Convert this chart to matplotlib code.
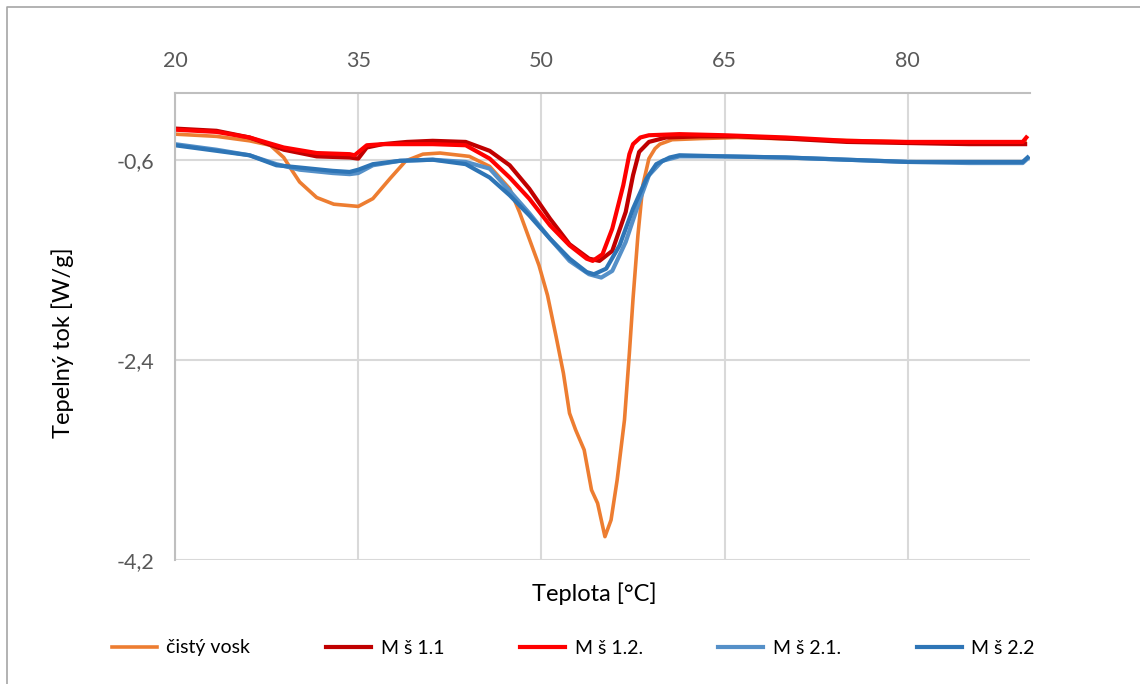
import matplotlib
matplotlib.use("Agg")
import matplotlib.pyplot as plt
from matplotlib.lines import Line2D

plt.rcParams['font.family'] = ['Lato', 'DejaVu Sans']

# data (teplota [°C], tepelny tok [W/g])
t_vosk = [20, 23.4, 26.1, 27.8, 28.9, 29.6, 30.2, 31.6, 33.0, 35.0, 36.2, 37.6, 38.9,
          40.3, 41.7, 44.1, 45.76, 47.4, 48.2, 49.0, 49.8, 50.5, 51.2, 51.8, 52.3, 52.8, 53.5,
          54.1, 54.6, 55.2, 55.7, 56.2, 56.8, 57.2, 57.5, 57.9, 58.3, 58.8, 59.3, 59.7, 60.7, 63.0,
          66.0, 72.5, 80.0, 89.6]
q_vosk = [-0.37, -0.39, -0.43, -0.47, -0.58, -0.70, -0.80, -0.94, -1.00, -1.02, -0.95, -0.77,
          -0.61, -0.55, -0.54, -0.57, -0.66, -0.86, -1.07, -1.31, -1.55, -1.82, -2.19,
          -2.52, -2.88, -3.03, -3.21, -3.57, -3.69, -3.99, -3.84, -3.48, -2.94, -2.34, -1.85,
          -1.28, -0.83, -0.59, -0.50, -0.46, -0.42, -0.41, -0.40, -0.42, -0.44, -0.44]

t_m11 = [20, 23.4, 26.1, 28.9, 31.6, 34.3, 35.0, 35.7, 37.0, 39.0, 41.1, 43.8, 45.76, 47.4,
         49.0, 50.7, 52.3, 53.9, 54.75, 55.8, 56.9, 57.5, 58.0, 58.8, 60.2, 63.0, 66.0, 70.0,
         75.0, 80.0, 85.0, 89.6]
q_m11 = [-0.32, -0.34, -0.40, -0.51, -0.57, -0.58, -0.59, -0.49, -0.46, -0.44, -0.43, -0.44,
         -0.52, -0.65, -0.86, -1.13, -1.36, -1.49, -1.51, -1.42, -1.07, -0.74, -0.53, -0.44,
         -0.40, -0.39, -0.39, -0.41, -0.44, -0.45, -0.46, -0.46]

t_m12 = [20, 23.4, 26.1, 28.9, 31.6, 34.3, 34.7, 35.7, 37.0, 39.0, 41.1, 43.8, 45.76, 47.4,
         49.0, 50.7, 52.3, 53.7, 54.2, 55.0, 55.8, 56.7, 57.2, 57.5, 58.1, 58.8, 61.3, 65.0, 70.0,
         75.0, 80.0, 85.0, 89.4, 89.7]
q_m12 = [-0.33, -0.35, -0.40, -0.49, -0.54, -0.55, -0.56, -0.47, -0.46, -0.46, -0.46, -0.47,
         -0.59, -0.76, -0.95, -1.19, -1.37, -1.49, -1.51, -1.45, -1.22, -0.83, -0.55, -0.46,
         -0.40, -0.38, -0.37, -0.38, -0.40, -0.43, -0.44, -0.44, -0.44, -0.40]

t_m21 = [20, 23.4, 26.1, 28.3, 30.2, 32.9, 34.3, 35.0, 36.2, 38.4, 41.1, 43.8, 45.76, 47.4,
         49.0, 50.7, 52.3, 53.9, 54.9, 55.8, 56.9, 58.0, 58.8, 59.9, 61.3, 65.0, 70.0, 75.0,
         80.0, 85.0, 89.4, 89.8]
q_m21 = [-0.46, -0.51, -0.56, -0.64, -0.69, -0.72, -0.73, -0.72, -0.65, -0.61, -0.60, -0.62,
         -0.68, -0.88, -1.08, -1.31, -1.51, -1.63, -1.66, -1.60, -1.34, -0.98, -0.74, -0.61,
         -0.57, -0.57, -0.58, -0.60, -0.62, -0.63, -0.63, -0.59]

t_m22 = [20, 23.4, 26.1, 28.3, 30.2, 32.9, 34.3, 35.0, 36.2, 38.4, 41.1, 43.8, 45.76, 47.4,
         49.0, 50.7, 52.3, 53.7, 54.3, 55.3, 56.4, 57.5, 58.6, 59.4, 60.5, 61.3, 65.0, 70.0,
         75.0, 80.0, 85.0, 89.4, 89.8]
q_m22 = [-0.47, -0.52, -0.56, -0.65, -0.67, -0.70, -0.71, -0.69, -0.64, -0.61, -0.60, -0.64,
         -0.76, -0.92, -1.10, -1.31, -1.49, -1.61, -1.63, -1.58, -1.37, -1.04, -0.77, -0.64,
         -0.58, -0.56, -0.57, -0.58, -0.60, -0.62, -0.62, -0.62, -0.58]

x_ticks = [20, 35, 50, 65, 80]
y_ticks = [-4.2, -2.4, -0.6]
y_labels = ['-4,2', '-2,4', '-0,6']

fig = plt.figure(figsize=(11.4, 6.84), dpi=100)
ax = fig.add_axes([175 / 1140, 1 - 560 / 684, 855 / 1140, 467 / 684])

ax.plot(t_vosk, q_vosk, color='#ED7D31', lw=2.6, label='čistý vosk', solid_joinstyle='round')
ax.plot(t_m11, q_m11, color='#C00000', lw=3, label='M š 1.1', solid_joinstyle='round')
ax.plot(t_m12, q_m12, color='#FF0000', lw=3, label='M š 1.2.', solid_joinstyle='round')
ax.plot(t_m21, q_m21, color='#5590C8', lw=3, label='M š 2.1.', solid_joinstyle='round')
ax.plot(t_m22, q_m22, color='#2E75B6', lw=3, label='M š 2.2', solid_joinstyle='round')

ax.set_xlim(20, 90)
ax.set_ylim(-4.2, 0)
ax.xaxis.tick_top()
ax.set_xticks(x_ticks)
ax.set_yticks(y_ticks)
ax.set_yticklabels(y_labels)
ax.tick_params(axis='both', length=0, labelsize=15.5, colors='#595959')
ax.tick_params(axis='x', pad=16)
ax.tick_params(axis='y', pad=15)
ax.grid(True, color='#D9D9D9', lw=1.5)
ax.set_axisbelow(True)

for s in ['right', 'bottom']:
    ax.spines[s].set_visible(False)
ax.spines['top'].set_color('#BFBFBF')
ax.spines['left'].set_color('#BFBFBF')
ax.spines['top'].set_linewidth(1.5)
ax.spines['left'].set_linewidth(1.5)

ax.set_ylabel('Tepelný tok [W/g]', fontsize=17)
ax.yaxis.set_label_coords(-0.118, 0.465)
ax.set_xlabel('Teplota [°C]', fontsize=17)
ax.xaxis.set_label_position('bottom')
ax.xaxis.set_label_coords(0.491, -0.048)

fig.legend(loc='center', bbox_to_anchor=(0.503, 1 - 648 / 684), ncol=5, frameon=False,
           fontsize=14, handlelength=2.3, handletextpad=0.5, columnspacing=3.9)

# chart frame (left and top edges visible)
fig.add_artist(Line2D([7 / 1140, 7 / 1140, 1.0], [0.0, 1 - 7 / 684, 1 - 7 / 684],
                      transform=fig.transFigure, color='#A6A6A6', lw=1.2))

plt.savefig('out.png', dpi=100)
